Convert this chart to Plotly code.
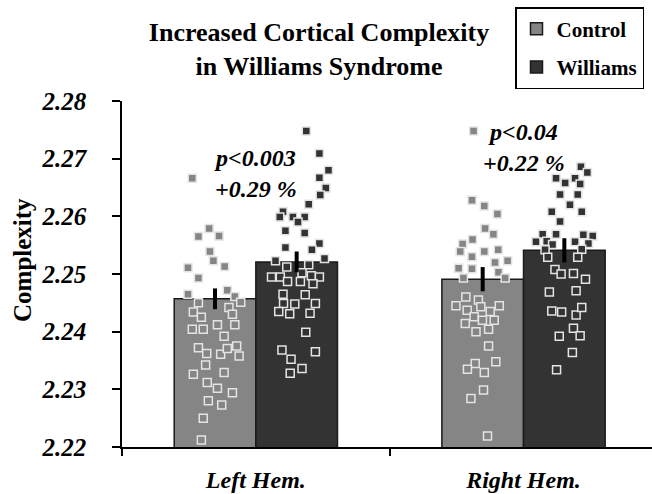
import plotly.graph_objects as go

hemispheres = ["Left Hem.", "Right Hem."]
groups = ["Control", "Williams"]
colors = {"Control": "#858585", "Williams": "#333333"}

control_means = [2.2457, 2.2491]
williams_means = [2.2521, 2.2541]
control_err = [0.0018, 0.0021]
williams_err = [0.0018, 0.0021]

# individual subjects: values and horizontal jitter (x-axis units)
ctrl_left_vals = [2.2666, 2.2579, 2.2565, 2.2566, 2.2539, 2.2523, 2.2511, 2.2513, 2.2493, 2.2465,
                  2.2472, 2.2461, 2.2451, 2.2450, 2.2434, 2.2425, 2.2442, 2.2430, 2.2404, 2.2404,
                  2.2412, 2.2412, 2.2392, 2.2372, 2.2362, 2.2361, 2.2371, 2.2375, 2.2358, 2.2342,
                  2.2326, 2.2329, 2.2312, 2.2302, 2.2294, 2.2280, 2.2273, 2.2250, 2.2212]
ctrl_left_jit = [-0.085, -0.022, -0.062, 0.015, -0.019, -0.006, -0.101, 0.036, -0.062, -0.101,
                 0.046, 0.074, 0.096, -0.062, -0.081, -0.051, 0.052, 0.065, -0.085, -0.044,
                 0.009, 0.074, 0.034, -0.062, -0.031, 0.021, 0.046, 0.081, 0.090, -0.035,
                 -0.081, 0.034, -0.029, 0.009, 0.065, -0.025, 0.025, -0.044, -0.051]

wil_left_vals = [2.2748, 2.2709, 2.2680, 2.2667, 2.2649, 2.2637, 2.2621, 2.2608, 2.2599, 2.2599,
                 2.2599, 2.2590, 2.2575, 2.2571, 2.2546, 2.2553, 2.2542, 2.2527, 2.2523, 2.2512,
                 2.2516, 2.2495, 2.2495, 2.2487, 2.2502, 2.2497, 2.2495, 2.2487, 2.2483, 2.2465,
                 2.2464, 2.2449, 2.2448, 2.2449, 2.2435, 2.2431, 2.2432, 2.2399, 2.2368, 2.2365,
                 2.2352, 2.2336, 2.2328]
wil_left_jit = [0.036, 0.085, 0.119, 0.085, 0.109, 0.088, 0.045, -0.051, -0.063, -0.014,
                0.030, 0.005, -0.042, 0.030, -0.042, 0.085, 0.057, 0.104, -0.079, -0.037,
                0.045, -0.094, -0.061, -0.034, 0.020, 0.055, 0.085, 0.014, 0.061, -0.051,
                0.032, -0.049, -0.007, 0.070, -0.067, -0.026, 0.050, 0.034, -0.055, 0.070,
                -0.021, 0.020, -0.024]

ctrl_right_vals = [2.2748, 2.2628, 2.2618, 2.2604, 2.2579, 2.2569, 2.2560, 2.2552, 2.2539, 2.2530,
                   2.2539, 2.2542, 2.2520, 2.2523, 2.2510, 2.2509, 2.2503, 2.2493, 2.2493, 2.2460,
                   2.2455, 2.2445, 2.2437, 2.2443, 2.2445, 2.2435, 2.2426, 2.2420, 2.2414, 2.2420,
                   2.2400, 2.2404, 2.2375, 2.2345, 2.2335, 2.2329, 2.2348, 2.2299, 2.2284, 2.2219]
ctrl_right_jit = [-0.034, -0.040, 0.006, 0.055, 0.009, 0.040, -0.038, -0.075, -0.084, -0.040,
                  0.006, 0.058, 0.046, 0.093, -0.090, -0.040, 0.059, -0.072, 0.084, -0.063,
                  -0.016, -0.100, -0.058, -0.007, 0.062, 0.028, -0.032, -0.001, -0.065, 0.043,
                  -0.025, 0.022, 0.022, -0.028, -0.057, 0.006, 0.049, 0.003, -0.044, 0.018]

wil_right_vals = [2.2802, 2.2686, 2.2676, 2.2666, 2.2658, 2.2666, 2.2656, 2.2638, 2.2638, 2.2620,
                  2.2608, 2.2608, 2.2591, 2.2569, 2.2569, 2.2568, 2.2566, 2.2556, 2.2557, 2.2551,
                  2.2556, 2.2553, 2.2542, 2.2543, 2.2529, 2.2529, 2.2508, 2.2500, 2.2501, 2.2491,
                  2.2469, 2.2471, 2.2436, 2.2434, 2.2429, 2.2442, 2.2406, 2.2392, 2.2393, 2.2364,
                  2.2334]
wil_right_jit = [0.015, 0.062, 0.086, -0.031, 0.003, 0.040, 0.059, -0.016, 0.050, 0.021,
                 -0.047, 0.065, -0.016, -0.081, -0.031, 0.071, 0.106, -0.106, -0.066, -0.044,
                 0.040, 0.090, -0.072, 0.065, -0.062, 0.050, -0.035, -0.012, 0.034, 0.079,
                 -0.056, 0.044, -0.047, -0.010, 0.044, 0.065, 0.034, -0.019, 0.059, 0.030,
                 -0.029]

annot_lines = [["p<0.003", "+0.29 %"], ["p<0.04", "+0.22 %"]]
annot_y = [2.2674, 2.2719]

y_ticks = [2.22, 2.23, 2.24, 2.25, 2.26, 2.27, 2.28]
y_title = "Complexity"

BARGAP = 0.39
half = (1 - BARGAP) / 4  # offset of each group's bar centre from category centre

FONT = "Liberation Serif, Times New Roman, serif"

fig = go.Figure()

means = {"Control": control_means, "Williams": williams_means}
errs = {"Control": control_err, "Williams": williams_err}
points = {
    "Control": [(ctrl_left_vals, ctrl_left_jit), (ctrl_right_vals, ctrl_right_jit)],
    "Williams": [(wil_left_vals, wil_left_jit), (wil_right_vals, wil_right_jit)],
}
offsets = {"Control": -half, "Williams": half}

xs = list(range(len(hemispheres)))

for g in groups:
    fig.add_trace(go.Bar(
        x=xs, y=means[g], name=g, legendgroup=g,
        marker=dict(color=colors[g], line=dict(color="#1a1a1a", width=1.5)),
        base=0,
    ))

for g in groups:
    for i, (vals, jit) in enumerate(points[g]):
        fig.add_trace(go.Scatter(
            x=[i + offsets[g] + j for j in jit], y=vals, mode="markers",
            marker=dict(symbol="square", size=8, color=colors[g],
                        line=dict(color="#e4e4e4", width=1.5)),
            showlegend=False, cliponaxis=False, hoverinfo="y",
        ))

for g in groups:
    fig.add_trace(go.Scatter(
        x=[i + offsets[g] for i in xs], y=means[g], mode="markers",
        marker=dict(size=1, opacity=0),
        error_y=dict(type="data", array=errs[g], color="black", thickness=4, width=0),
        showlegend=False, hoverinfo="skip",
    ))

for i, lines in enumerate(annot_lines):
    fig.add_annotation(
        x=i, y=annot_y[i], xref="x", yref="y",
        text="<br>".join(f"<b><i>{t}</i></b>" for t in lines),
        showarrow=False, font=dict(family=FONT, size=24, color="black"),
        xanchor="center", yanchor="middle",
    )

# y-axis title placed as a rotated label
fig.add_annotation(
    x=(22 - 122) / 530, y=(447 - 260) / 346, xref="paper", yref="paper",
    text=f"<b>{y_title}</b>", textangle=-90, showarrow=False,
    font=dict(family=FONT, size=25, color="black"),
    xanchor="center", yanchor="middle",
)

fig.update_layout(
    width=652, height=494,
    margin=dict(l=122, r=0, t=101, b=47, autoexpand=False),
    paper_bgcolor="white", plot_bgcolor="white",
    barmode="group", bargap=BARGAP, bargroupgap=0,
    title=dict(
        text="<b>Increased Cortical Complexity<br>in Williams Syndrome</b>",
        font=dict(family=FONT, size=26, color="black"),
        x=319 / 652, xanchor="center", xref="container",
        y=1 - 41 / 494, yanchor="middle", yref="container",
    ),
    legend=dict(
        x=(515 - 122) / 530, y=(447 - 7) / 346, xanchor="left", yanchor="top",
        bgcolor="white", bordercolor="black", borderwidth=1.5,
        font=dict(family=FONT, size=21, color="black", weight="bold"),
        tracegroupgap=8,
    ),
    showlegend=True,
)

fig.update_xaxes(
    range=[-0.5, 1.48], showgrid=False, zeroline=False, automargin=False,
    showline=True, linecolor="black", linewidth=1.5,
    tickvals=xs, ticktext=[f"<b><i>{h}</i></b>" for h in hemispheres],
    ticks="", tickfont=dict(family=FONT, size=24, color="black"),
    ticklabelstandoff=10,
    minor=dict(tick0=0.5, dtick=1, ticks="outside", ticklen=7, tickcolor="black", tickwidth=1.5),
)
fig.update_yaxes(
    range=[2.22, 2.28], showgrid=False, zeroline=False, automargin=False,
    showline=True, linecolor="black", linewidth=1.5,
    tickvals=y_ticks, ticktext=[f"<b><i>{v:.2f}</i></b>" for v in y_ticks],
    ticks="outside", ticklen=8, tickcolor="black", tickwidth=1.5,
    tickfont=dict(family=FONT, size=25, color="black"),
    ticklabelstandoff=21,
)

fig.write_html(
    "out.html",
    config={"displayModeBar": False},
    post_script="document.body.style.margin='0';",
)
